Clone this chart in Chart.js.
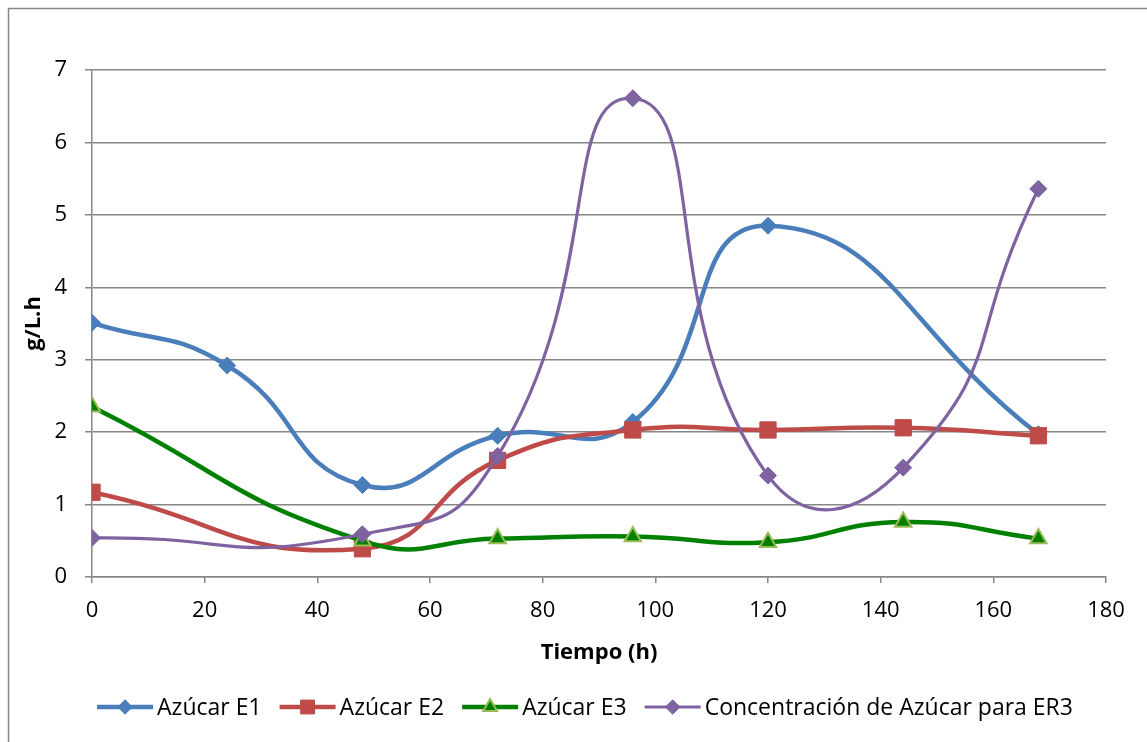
<!DOCTYPE html>
<html lang="es">
<head>
<meta charset="utf-8">
<title>Azúcar</title>
<script src="https://cdn.jsdelivr.net/npm/chart.js"></script>
<style>
    html, body { margin: 0; padding: 0; background: #fff; }
    #wrap { width: 1147px; height: 742px; position: relative; }
</style>
</head>
<body>
<div id="wrap"><canvas id="myChart"></canvas></div>
<script>
    // datos
    var horas = [0, 24, 48, 72, 96, 120, 144, 168];
    var azucarE1 = [3.51, 2.92, 1.27, 1.95, 2.14, 4.85, null, 1.97];
    var azucarE2 = [1.17, null, 0.39, 1.61, 2.03, 2.03, 2.06, 1.95];
    var azucarE3 = [2.35, null, 0.50, 0.53, 0.56, 0.48, 0.76, 0.53];
    var azucarER3 = [0.54, null, 0.59, 1.67, 6.61, 1.40, 1.51, 5.36];
    var nombres = ['Azúcar E1', 'Azúcar E2', 'Azúcar E3', 'Concentración de Azúcar para ER3'];
    var ticksX = [0, 20, 40, 60, 80, 100, 120, 140, 160, 180];
    var ticksY = [0, 1, 2, 3, 4, 5, 6, 7];

    var gris = '#868686';
    var fuente = "'Open Sans', sans-serif";
    Chart.defaults.font.family = fuente;
    Chart.defaults.color = '#000';

    function puntos(valores) {
        var res = [];
        valores.forEach(function (v, i) {
            if (v !== null) res.push({x: horas[i], y: v});
        });
        return res;
    }

    var estilos = [
        {color: '#4A7EBB', ancho: 4.5, forma: 'rectRot', radio: 8.5, relleno: '#4A7EBB', borde: '#4A7EBB', bw: 1, tension: 0.5},
        {color: '#BE4B48', ancho: 4.5, forma: 'rect', radio: 11.5, relleno: '#BE4B48', borde: '#BE4B48', bw: 1, tension: 0.5},
        {color: '#008000', ancho: 4.5, forma: 'triangle', radio: 9.5, relleno: '#008000', borde: '#9BBB59', bw: 2, tension: 0.5},
        {color: '#7F63A1', ancho: 3.2, forma: 'rectRot', radio: 8.5, relleno: '#7F63A1', borde: '#7F63A1', bw: 1, tension: 0.56}
    ];
    var series = [azucarE1, azucarE2, azucarE3, azucarER3];

    var datasets = series.map(function (s, i) {
        var e = estilos[i];
        return {
            label: nombres[i],
            data: puntos(s),
            borderColor: e.color,
            borderWidth: e.ancho,
            tension: e.tension,
            pointStyle: e.forma,
            pointRadius: e.radio,
            pointHoverRadius: e.radio,
            pointBackgroundColor: e.relleno,
            pointBorderColor: e.borde,
            pointBorderWidth: e.bw,
            order: 4 - i,
            fill: false
        };
    });

    function marca(ctx, forma, x, y, r, relleno, borde, bw) {
        ctx.beginPath();
        if (forma === 'rectRot') {
            ctx.moveTo(x, y - r); ctx.lineTo(x + r, y); ctx.lineTo(x, y + r); ctx.lineTo(x - r, y);
        } else if (forma === 'rect') {
            var s = r * Math.SQRT1_2;
            ctx.rect(x - s, y - s, 2 * s, 2 * s);
        } else {
            ctx.moveTo(x, y - r);
            ctx.lineTo(x + r * Math.sin(Math.PI * 2 / 3), y - r * Math.cos(Math.PI * 2 / 3));
            ctx.lineTo(x - r * Math.sin(Math.PI * 2 / 3), y - r * Math.cos(Math.PI * 2 / 3));
        }
        ctx.closePath();
        ctx.fillStyle = relleno;
        ctx.fill();
        ctx.lineWidth = bw;
        ctx.strokeStyle = borde;
        ctx.stroke();
    }

    var marco = {
        id: 'marco',
        beforeDraw: function (chart) {
            var ctx = chart.ctx;
            ctx.save();
            ctx.fillStyle = '#fff';
            ctx.fillRect(0, 0, chart.width, chart.height);
            ctx.strokeStyle = gris;
            ctx.lineWidth = 1.5;
            ctx.strokeRect(8.5, 8.5, chart.width + 20, chart.height + 20);
            ctx.restore();
        }
    };

    var leyenda = {
        id: 'leyenda',
        afterDraw: function (chart) {
            var ctx = chart.ctx;
            var yc = 707, icono = 56, sep = 4, hueco = 18;
            ctx.save();
            ctx.font = '23px ' + fuente;
            ctx.textBaseline = 'middle';
            var anchos = nombres.map(function (n) { return ctx.measureText(n).width; });
            var total = 0;
            anchos.forEach(function (w) { total += icono + sep + w; });
            total += hueco * (nombres.length - 1);
            var x = 585 - total / 2;
            nombres.forEach(function (n, i) {
                var e = estilos[i];
                ctx.beginPath();
                ctx.moveTo(x, yc); ctx.lineTo(x + icono, yc);
                ctx.strokeStyle = e.color;
                ctx.lineWidth = e.ancho;
                ctx.stroke();
                marca(ctx, e.forma, x + icono / 2, yc, e.radio * 0.85, e.relleno, e.borde, e.bw);
                ctx.fillStyle = '#000';
                ctx.fillText(n, x + icono + sep, yc + 1);
                x += icono + sep + anchos[i] + hueco;
            });
            ctx.restore();
        }
    };

    var myChart = new Chart(document.getElementById('myChart'), {
        type: 'line',
        data: {datasets: datasets},
        options: {
            responsive: true,
            maintainAspectRatio: false,
            animation: false,
            layout: {padding: {top: 70, right: 41, left: 0, bottom: 0}},
            plugins: {
                legend: {display: false},
                tooltip: {enabled: false}
            },
            scales: {
                x: {
                    type: 'linear',
                    min: 0,
                    max: 180,
                    afterBuildTicks: function (s) { s.ticks = ticksX.map(function (v) { return {value: v}; }); },
                    afterFit: function (s) { s.height = 165; },
                    grid: {drawOnChartArea: false, drawTicks: true, tickLength: 6, color: gris, lineWidth: 1.5},
                    border: {display: true, color: gris, width: 1.5},
                    ticks: {font: {size: 22}, padding: 15, maxRotation: 0, color: '#000'},
                    title: {display: true, text: 'Tiempo (h)', font: {size: 22, weight: 'bold'}, padding: {top: 4, bottom: 76}}
                },
                y: {
                    min: 0,
                    max: 7,
                    afterBuildTicks: function (s) { s.ticks = ticksY.map(function (v) { return {value: v}; }); },
                    afterFit: function (s) { s.width = 92; },
                    grid: {drawTicks: true, tickLength: 7, color: gris, lineWidth: 1.5},
                    border: {display: true, color: gris, width: 1.5},
                    ticks: {font: {size: 22}, padding: 18, color: '#000'},
                    title: {display: true, text: 'g/L.h', font: {size: 22, weight: 'bold'}, padding: {top: 21, bottom: 0}}
                }
            }
        },
        plugins: [marco, leyenda]
    });
</script>
</body>
</html>
